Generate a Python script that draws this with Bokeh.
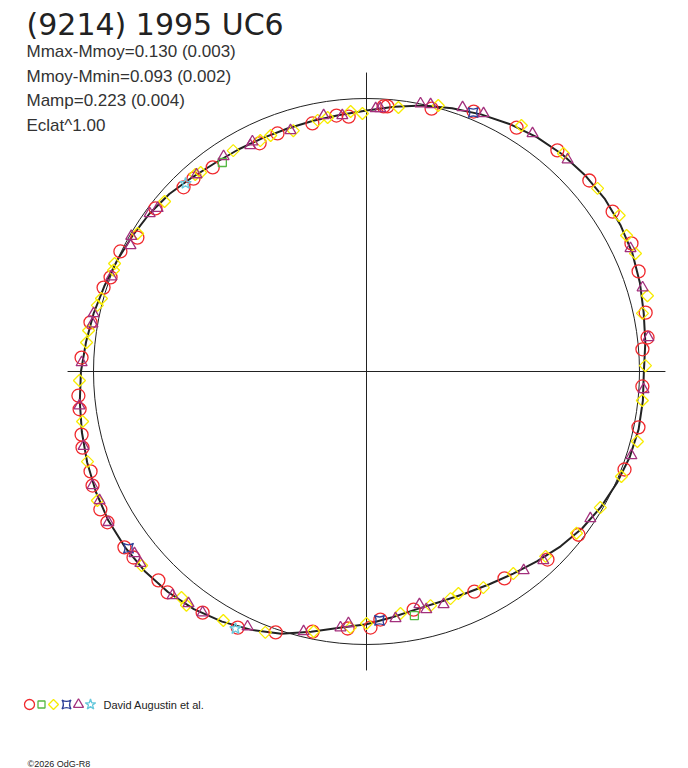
import numpy as np
from bokeh.plotting import figure
from bokeh.models import Range1d, Label
from bokeh.embed import file_html
from bokeh.resources import INLINE

# ---------------- texts ----------------
TITLE = "(9214) 1995 UC6"
INFO_LINES = ["Mmax-Mmoy=0.130 (0.003)", "Mmoy-Mmin=0.093 (0.002)",
              "Mamp=0.223 (0.004)", "Eclat^1.00"]
OBSERVER = "David Augustin et al."
CREDIT = "\u00a92026 OdG-R8"

# ---------------- data (phase angle in degrees, relative brightness; circle = 1) ----------------
curve_angle = [0, 6, 12, 18, 24, 30, 36, 42, 48, 54, 60, 66, 72, 78, 84, 90, 96, 102, 108, 114,
               120, 126, 132, 138, 144, 150, 156, 162, 168, 174, 180, 186, 192, 198, 204, 210,
               216, 222, 228, 234, 240, 246, 252, 258, 264, 270, 276, 282, 288, 294, 300, 306,
               312, 318, 324, 330, 336, 342, 348, 354]
curve_flux = [1.016, 1.027, 1.038, 1.053, 1.066, 1.074, 1.078, 1.076, 1.071, 1.061, 1.047, 1.031,
              1.014, 0.996, 0.975, 0.956, 0.945, 0.939, 0.936, 0.936, 0.939, 0.944, 0.956, 0.972,
              0.983, 0.991, 1.000, 1.010, 1.022, 1.033, 1.046, 1.056, 1.066, 1.076, 1.085, 1.092,
              1.094, 1.093, 1.087, 1.076, 1.058, 1.036, 1.010, 0.975, 0.944, 0.926, 0.905, 0.890,
              0.886, 0.890, 0.900, 0.915, 0.935, 0.957, 0.977, 0.992, 1.004, 1.014, 1.019, 1.018]

red_angle = [131.9, 127.0, 115.1, 110.5, 102.3, 96.7, 94.0, 86.3, 85.5, 76.1, 67.6, 58.4, 49.2,
             40.6, 33.0, 25.8, 20.2, 11.9, 6.9, 4.6, 356.9, 348.4, 339.2, 322.4, 313.9, 303.7,
             296.1, 281.2, 273.2, 270.9, 265.8, 258.3, 250.8, 243.3, 235.8, 228.0, 225.1, 218.6,
             216.0, 210.2, 207.4, 202.6, 199.9, 195.0, 192.5, 187.5, 184.8, 177.2, 169.9, 162.3,
             159.8, 154.0, 149.7, 142.3, 134.8]
red_flux = [0.949, 0.936, 0.923, 0.931, 0.930, 0.944, 0.936, 0.973, 0.974, 0.992, 1.030, 1.049,
            1.070, 1.075, 1.075, 1.078, 1.062, 1.045, 1.037, 1.014, 1.012, 1.017, 1.011, 0.980,
            0.956, 0.911, 0.898, 0.889, 0.910, 0.938, 0.944, 0.973, 1.012, 1.050, 1.068, 1.089,
            1.080, 1.092, 1.096, 1.098, 1.098, 1.087, 1.075, 1.077, 1.069, 1.060, 1.059, 1.045,
            1.027, 1.011, 0.999, 1.003, 0.972, 0.977, 0.951]

green_angle = [124.6, 281.1]
green_flux = [0.930, 0.911]

yellow_angle = [129.8, 121.1, 114.7, 112.1, 106.9, 101.0, 98.7, 93.5, 90.9, 83.1, 74.9, 57.8, 47.9,
                38.4, 31.7, 27.6, 23.7, 15.1, 11.9, 1.2, 354.0, 345.5, 337.6, 329.8, 322.4, 314.1,
                306.0, 298.4, 292.5, 290.3, 285.3, 278.0, 270.0, 266.4, 258.5, 248.8, 240.1, 230.7,
                232.4, 220.8, 205.6, 197.9, 190.0, 181.8, 174.1, 171.6, 166.2, 164.6, 158.2, 156.8,
                148.9, 139.9, 131.0]
yellow_flux = [0.949, 0.945, 0.931, 0.933, 0.922, 0.937, 0.941, 0.954, 0.945, 0.974, 1.009, 1.065,
               1.076, 1.080, 1.088, 1.075, 1.076, 1.066, 1.033, 1.022, 1.016, 1.025, 1.010, 0.991,
               0.971, 0.943, 0.915, 0.900, 0.880, 0.887, 0.889, 0.895, 0.923, 0.940, 0.972, 1.025,
               1.052, 1.070, 1.081, 1.088, 1.093, 1.074, 1.056, 1.052, 1.031, 1.029, 1.015, 1.007,
               0.998, 1.004, 0.979, 0.967, 0.956]

blue_angle = [67.6, 273.0, 216.6]
blue_flux = [1.026, 0.913, 1.086]

purple_angle = [123.6, 116.4, 117.2, 107.5, 99.5, 95.4, 88.0, 87.0, 78.6, 76.5, 70.0, 65.6, 55.1,
                46.5, 25.0, 16.9, 6.9, 356.3, 342.4, 326.7, 313.1, 308.3, 288.3, 284.1, 282.8,
                276.7, 265.9, 264.2, 256.4, 245.0, 235.8, 232.5, 229.1, 220.3, 218.1, 210.3, 205.8,
                202.6, 194.8, 186.8, 178.2, 168.0, 170.1, 159.6, 151.9, 150.1, 143.9, 142.0, 130.8]
purple_flux = [0.946, 0.940, 0.931, 0.926, 0.951, 0.942, 0.964, 0.965, 1.001, 1.006, 1.029, 1.038,
               1.063, 1.070, 1.067, 1.057, 1.040, 1.017, 1.018, 0.981, 0.948, 0.929, 0.899, 0.899,
               0.875, 0.911, 0.925, 0.943, 0.980, 1.031, 1.068, 1.071, 1.085, 1.086, 1.080, 1.095,
               1.086, 1.087, 1.072, 1.059, 1.044, 1.022, 1.019, 0.997, 0.980, 0.994, 0.983, 0.971,
               0.953]

cyan_angle = [133.9, 243.0]
cyan_flux = [0.956, 1.057]

# ---------------- layout / style ----------------
W, H = 688, 768
CX, CY = 366, 371      # pixel of the origin inside the figure
SCALE = 273.0          # pixels per unit of relative brightness
AXIS_LEN = 1.095
INK = "#222222"
RED, GREEN, YELLOW = "#f02a2e", "#55b843", "#f7ec00"
BLUE, PURPLE, CYAN = "#2d3f98", "#a3307d", "#66c8dc"
MLW = 1.3


def polar(angle, flux):
    a = np.radians(np.asarray(angle, dtype=float))
    f = np.asarray(flux, dtype=float)
    return f * np.cos(a), f * np.sin(a)


def page(px, py):
    """convert a pixel position into plot coordinates (layout helper)"""
    return (px - CX) / SCALE, (CY - py) / SCALE


p = figure(width=W, height=H, output_backend="svg", toolbar_location=None,
           x_range=Range1d(-CX / SCALE, (W - CX) / SCALE),
           y_range=Range1d(-(H - CY) / SCALE, CY / SCALE),
           x_axis_location=None, y_axis_location=None, min_border=0)
p.grid.visible = False
p.outline_line_color = None
p.background_fill_color = "white"
p.border_fill_color = "white"

# axes cross
p.segment(x0=[-AXIS_LEN, 0], y0=[0, -AXIS_LEN], x1=[AXIS_LEN, 0], y1=[0, AXIS_LEN],
          line_color=INK, line_width=1)
# reference circle (mean brightness)
p.circle(x=[0], y=[0], radius=1.0, fill_color=None, line_color=INK, line_width=1)

# fitted lightcurve
cx, cy = polar(curve_angle + curve_angle[:1], curve_flux + curve_flux[:1])
p.line(cx, cy, line_color=INK, line_width=2)

series = [
    (red_angle, red_flux, dict(marker="circle", size=13, line_color=RED)),
    (green_angle, green_flux, dict(marker="square", size=8, line_color=GREEN)),
    (yellow_angle, yellow_flux, dict(marker="square", angle=np.pi / 4, size=8.5, line_color=YELLOW)),
    (blue_angle, blue_flux, dict(marker="square_pin", size=10, line_color=BLUE)),
    (purple_angle, purple_flux, dict(marker="triangle", size=11, line_color=PURPLE)),
    (cyan_angle, cyan_flux, dict(marker="star", size=12, line_color=CYAN)),
]
for ang, flx, style in series:
    x, y = polar(ang, flx)
    p.scatter(x, y, fill_color=None, line_width=MLW, **style)

# legend row
legend_px = [29, 41, 53, 66, 78, 90]
legend_sizes = [10, 7, 7, 9, 10, 11]
for (_, _, style), px, sz in zip(series, legend_px, legend_sizes):
    lx, ly = page(px, 704)
    st = dict(style)
    st["size"] = sz
    p.scatter([lx], [ly], fill_color=None, line_width=MLW, **st)

p.add_layout(Label(x=26, y=H - 24, x_units="screen", y_units="screen", text=TITLE,
                   text_font="DejaVu Sans", text_font_size="30px", text_color=INK,
                   text_baseline="alphabetic"))
for i, line in enumerate(INFO_LINES):
    p.add_layout(Label(x=26, y=H - 51 - 24.7 * i, x_units="screen", y_units="screen", text=line,
                       text_font="Liberation Sans", text_font_size="17px", text_color="#333333",
                       text_baseline="alphabetic"))
p.add_layout(Label(x=103, y=H - 704, x_units="screen", y_units="screen", text=OBSERVER,
                   text_font="Liberation Sans", text_font_size="11px", text_color=INK,
                   text_baseline="middle"))
p.add_layout(Label(x=27, y=5, x_units="screen", y_units="screen", text=CREDIT,
                   text_font="Liberation Sans", text_font_size="9px", text_color=INK,
                   text_baseline="alphabetic"))

open("out.html", "w").write(file_html(p, INLINE))
